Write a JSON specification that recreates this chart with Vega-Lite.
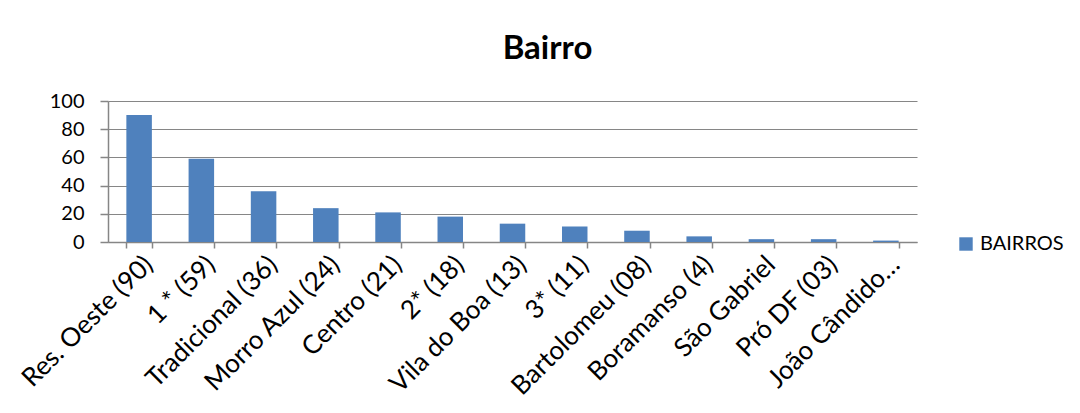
{
  "$schema": "https://vega.github.io/schema/vega-lite/v6.json",
  "autosize": "none",
  "width": 809,
  "height": 141,
  "padding": {"left": 108, "top": 101, "right": 163, "bottom": 171},
  "background": "white",
  "title": {"text": "Bairro", "font": "Lato", "fontSize": 33, "fontWeight": "bold", "color": "#000000", "anchor": "middle", "dx": 35, "offset": 25},
  "config": {"view": {"stroke": null}, "font": "Lato"},
  "data": {"values": [
    {"bairro": "Res. Oeste (90)", "valor": 90},
    {"bairro": "1 * (59)", "valor": 59},
    {"bairro": "Tradicional (36)", "valor": 36},
    {"bairro": "Morro Azul (24)", "valor": 24},
    {"bairro": "Centro (21)", "valor": 21},
    {"bairro": "2* (18)", "valor": 18},
    {"bairro": "Vila do Boa (13)", "valor": 13},
    {"bairro": "3* (11)", "valor": 11},
    {"bairro": "Bartolomeu (08)", "valor": 8},
    {"bairro": "Boramanso (4)", "valor": 4},
    {"bairro": "São Gabriel", "valor": 2},
    {"bairro": "Pró DF (03)", "valor": 2},
    {"bairro": "João Cândido…", "valor": 1}
  ]},
  "mark": {"type": "bar"},
  "encoding": {
    "x": {"field": "bairro", "type": "nominal", "sort": null,
      "scale": {"paddingInner": 0.59, "paddingOuter": 0.295},
      "axis": {"title": null, "labelAngle": -45, "labelAlign": "right", "labelBaseline": "top", "labelFontSize": 26, "labelColor": "#000000", "labelPadding": 3, "labelOverlap": false, "labelLimit": 300,
        "domainColor": "#868686", "domainWidth": 1.5, "tickColor": "#868686", "tickWidth": 1.5, "tickSize": 6, "tickBand": "extent", "grid": false}},
    "y": {"field": "valor", "type": "quantitative",
      "scale": {"domain": [0, 100]},
      "axis": {"title": null, "values": [0, 20, 40, 60, 80, 100], "labelFontSize": 20, "labelColor": "#000000", "labelPadding": 16,
        "domainColor": "#868686", "domainWidth": 1.5, "tickColor": "#868686", "tickWidth": 1.5, "tickSize": 8,
        "grid": true, "gridColor": "#868686", "gridWidth": 1.2}},
    "color": {"datum": "BAIRROS", "type": "nominal",
      "scale": {"range": ["#4F81BD"]},
      "legend": {"title": null, "orient": "none", "legendX": 848, "legendY": 133, "symbolType": "square", "symbolSize": 180, "symbolStrokeWidth": 0, "labelFontSize": 20, "labelColor": "#000000", "labelFont": "Lato"}}
  }
}
